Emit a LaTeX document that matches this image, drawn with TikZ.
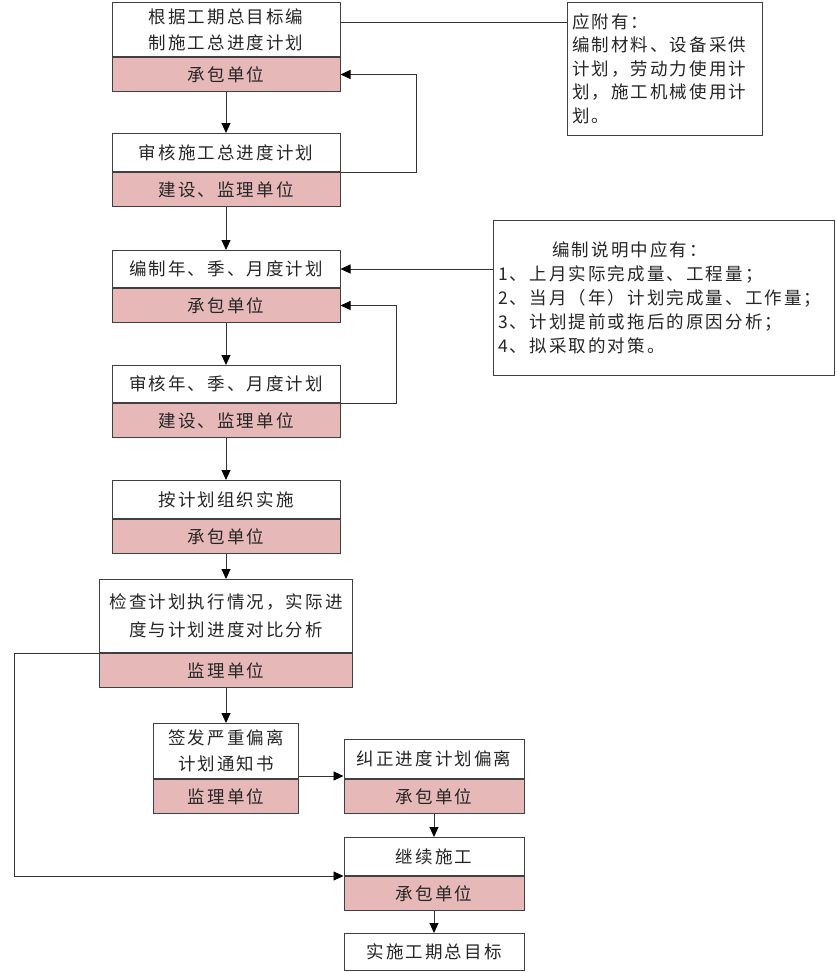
\documentclass[tikz,border=0pt]{standalone}
\usepackage{fontspec}
\usetikzlibrary{positioning,arrows.meta}
\newfontfamily\cjk[LetterSpace=12]{Noto Sans CJK SC}
\definecolor{orgpink}{HTML}{E6B9B8}
\definecolor{boxline}{HTML}{404040}

\begin{document}
\begin{tikzpicture}[
      x=1pt,
      y=-1pt,
      >={Triangle[length=10pt,width=9pt,color=black]},
      every node/.style={font=\cjk\fontsize{17.5}{26}\selectfont, text=black!85},
      stepbox/.style={draw=boxline, line width=1pt, fill=white, inner sep=0pt, align=center},
      orgbox/.style={stepbox, fill=orgpink, minimum height=34pt},
      notebox/.style={draw=boxline, line width=1pt, fill=white, inner sep=0pt, align=left},
      link/.style={draw=black!80, line width=0.9pt}
    ]
    \useasboundingbox (0,0) rectangle (837,972);

    % --- 1. 列位置 ---
    \def\xMain{226}
    \def\xSide{434}

    % --- 2. 总进度计划 ---
    \node[stepbox, minimum width=228pt, minimum height=54pt, anchor=north] (plan) at (\xMain, 2) {根据工期总目标编\\制施工总进度计划};
    \node[orgbox, minimum width=228pt, below=0pt of plan] (planorg) {承包单位};

    \node[stepbox, minimum width=228pt, minimum height=38pt, anchor=north] (audit) at (\xMain, 133) {审核施工总进度计划};
    \node[orgbox, minimum width=228pt, below=0pt of audit] (auditorg) {建设、监理单位};

    % --- 3. 年、季、月度计划 ---
    \node[stepbox, minimum width=228pt, minimum height=37pt, anchor=north] (period) at (\xMain, 250) {编制年、季、月度计划};
    \node[orgbox, minimum width=228pt, below=0pt of period] (periodorg) {承包单位};

    \node[stepbox, minimum width=228pt, minimum height=37pt, anchor=north] (paudit) at (\xMain, 365) {审核年、季、月度计划};
    \node[orgbox, minimum width=228pt, below=0pt of paudit] (pauditorg) {建设、监理单位};

    % --- 4. 实施与检查 ---
    \node[stepbox, minimum width=228pt, minimum height=38pt, anchor=north] (exec) at (\xMain, 480) {按计划组织实施};
    \node[orgbox, minimum width=228pt, below=0pt of exec] (execorg) {承包单位};

    \node[stepbox, minimum width=253pt, minimum height=73pt, anchor=north,
          font=\cjk\fontsize{17.5}{28}\selectfont] (check) at (\xMain, 579) {检查计划执行情况，实际进\\度与计划进度对比分析};
    \node[orgbox, minimum width=253pt, below=0pt of check] (checkorg) {监理单位};

    \node[stepbox, minimum width=145pt, minimum height=55pt, anchor=north] (notice) at (\xMain, 723) {签发严重偏离\\计划通知书};
    \node[orgbox, minimum width=145pt, below=0pt of notice] (noticeorg) {监理单位};

    % --- 5. 纠偏、继续施工 ---
    \node[stepbox, minimum width=180pt, minimum height=39pt, anchor=north] (fix) at (\xSide, 739) {纠正进度计划偏离};
    \node[orgbox, minimum width=180pt, below=0pt of fix] (fixorg) {承包单位};

    \node[stepbox, minimum width=180pt, minimum height=38pt, anchor=north] (cont) at (\xSide, 837) {继续施工};
    \node[orgbox, minimum width=180pt, below=0pt of cont] (contorg) {承包单位};

    \node[stepbox, minimum width=180pt, minimum height=37pt, anchor=north] (goal) at (\xSide, 933) {实施工期总目标};

    % --- 6. 附注 ---
    \node[notebox, minimum width=195pt, minimum height=133pt, text width=185pt,
          font=\cjk\fontsize{17.5}{23.5}\selectfont] (note1) at (664.5, 68.5)
          {应附有：\\编制材料、设备采供\\计划，劳动力使用计\\划，施工机械使用计\\划。};
    \node[notebox, minimum width=341pt, minimum height=155pt, text width=331pt,
          font=\cjk\fontsize{17.5}{24}\selectfont] (note2) at (663.5, 297.5)
          {\hspace*{3.1em}编制说明中应有：\\1、上月实际完成量、工程量；\\2、当月（年）计划完成量、工作量；\\3、计划提前或拖后的原因分析；\\4、拟采取的对策。};
    \coordinate (note1tap) at (500, 22);

    % --- 7. 连线 ---
    \draw[link, ->] (planorg) -- (audit);
    \draw[link, ->] (auditorg) -- (period);
    \draw[link, ->] (periodorg) -- (paudit);
    \draw[link, ->] (pauditorg) -- (exec);
    \draw[link, ->] (execorg) -- (check);
    \draw[link, ->] (checkorg) -- (notice);
    \draw[link, ->] (fixorg) -- (cont);
    \draw[link, ->] (contorg) -- (goal);
    \draw[link, ->] ([yshift=3pt]notice.south east) -- ([yshift=3pt]fix.south west);

    % 反馈
    \draw[link, ->] (audit.south east) -- ++(76, 0) |- (planorg.east);
    \draw[link, ->] (paudit.south east) -- ++(56, 0) |- (periodorg.east);
    \draw[link, ->] (check.south west) -- ++(-85, 0) |- (cont.south west);

    % 附注连线
    \draw[link] (plan.east |- note1tap) -- (note1.west |- note1tap);
    \draw[link, ->] (note2.west |- period.east) -- (period.east);

  \end{tikzpicture}
\end{document}
